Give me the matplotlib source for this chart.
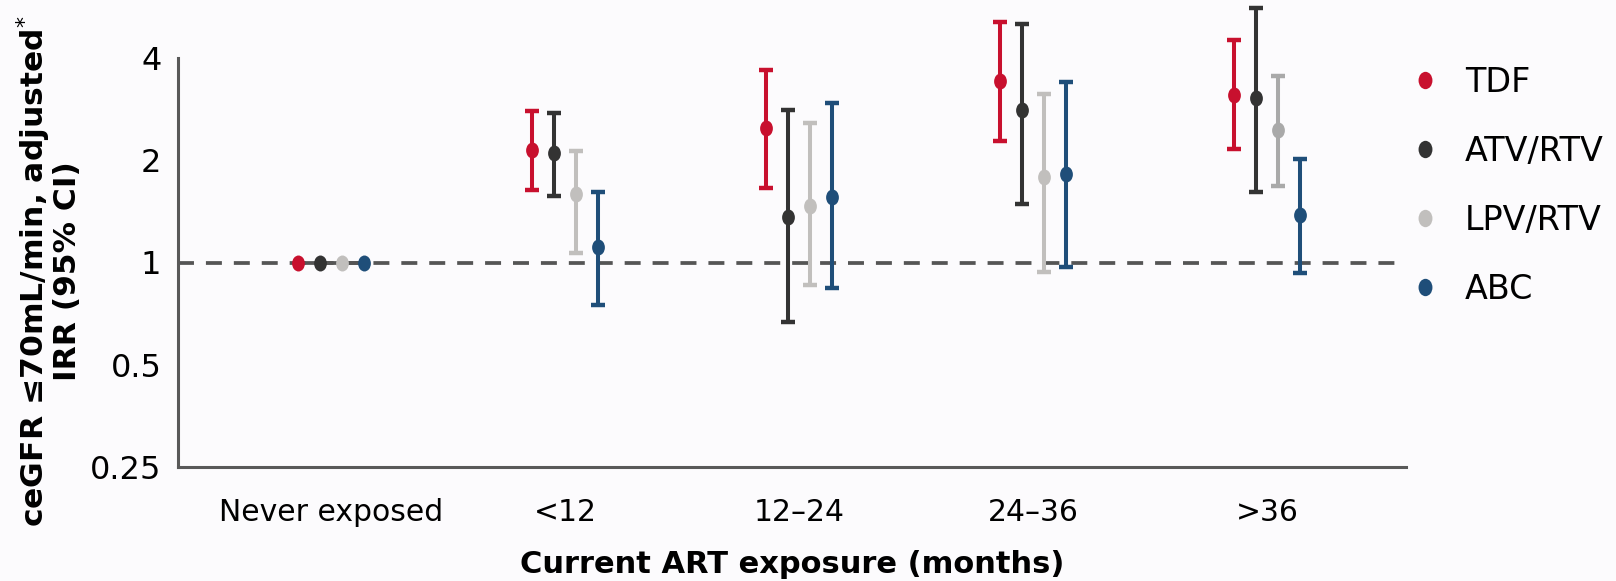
import numpy as np
import matplotlib
matplotlib.use("Agg")
import matplotlib.pyplot as plt
from matplotlib.path import Path
from matplotlib.lines import Line2D
from matplotlib.ticker import FixedLocator, FixedFormatter, NullLocator

# ---- data -------------------------------------------------------------
categories = ["Never exposed", "<12", "12\u201324", "24\u201336", ">36"]
series_names = ["TDF", "ATV/RTV", "LPV/RTV", "ABC"]

tdf_irr = [1.0, 2.15, 2.49, 3.43, 3.11]
tdf_lo = [1.0, 1.63, 1.66, 2.28, 2.16]
tdf_hi = [1.0, 2.79, 3.69, 5.10, 4.51]

atv_irr = [1.0, 2.10, 1.36, 2.81, 3.04]
atv_lo = [1.0, 1.57, 0.667, 1.49, 1.61]
atv_hi = [1.0, 2.75, 2.82, 5.02, 5.62]

lpv_irr = [1.0, 1.59, 1.47, 1.78, 2.45]
lpv_lo = [1.0, 1.07, 0.859, 0.94, 1.68]
lpv_hi = [1.0, 2.13, 2.57, 3.14, 3.55]

abc_irr = [1.0, 1.11, 1.56, 1.82, 1.38]
abc_lo = [1.0, 0.75, 0.839, 0.97, 0.93]
abc_hi = [1.0, 1.61, 2.94, 3.41, 2.02]

y_ticks = [0.25, 0.5, 1, 2, 4]
y_tick_labels = ["0.25", "0.5", "1", "2", "4"]

# ---- style ------------------------------------------------------------
bg = "#fcfbfd"
axis_grey = "#595959"
colors = ["#c8102e", "#333333", "#c1bfbd", "#1f4e79"]
# the longest-exposure LPV/RTV estimate is drawn in a darker grey
point_colors = [
    [colors[0]] * 5,
    [colors[1]] * 5,
    [colors[2]] * 4 + ["#a9a9a9"],
    [colors[3]] * 5,
]
offset_step = 0.094

# slightly tall elliptical marker
circ = Path.unit_circle()
ellipse = Path(circ.vertices * np.array([0.8, 1.0]), circ.codes)

plt.rcParams["font.family"] = ["DejaVu Sans"]

fig = plt.figure(figsize=(16.16, 5.81), dpi=100, facecolor=bg)
ax = fig.add_axes([178 / 1616, 1 - 467 / 581, (1406 - 178) / 1616, (467 - 58) / 581])
ax.set_facecolor(bg)

ax.set_yscale("log", base=2)
ax.set_ylim(0.25, 4.0)
ax.set_xlim(-0.654, 4.594)

x = np.arange(len(categories))
all_series = [
    (tdf_irr, tdf_lo, tdf_hi),
    (atv_irr, atv_lo, atv_hi),
    (lpv_irr, lpv_lo, lpv_hi),
    (abc_irr, abc_lo, abc_hi),
]

# reference line at IRR = 1
ref_lw = 2.7
ax.plot([-0.654, 4.57], [1, 1], color="#555555", lw=ref_lw,
        linestyle=(0, (11.5 / ref_lw, 8.6 / ref_lw)), zorder=1, solid_capstyle="butt")
# the never-exposed reference estimates sit on a solid segment
xs0 = [x[0] + (0 - 1.5) * offset_step, x[0] + (3 - 1.5) * offset_step]
ax.plot(xs0, [1, 1], color="#555555", lw=ref_lw, zorder=2)

for j, (irr, lo, hi) in enumerate(all_series):
    irr = np.asarray(irr)
    lo = np.asarray(lo)
    hi = np.asarray(hi)
    xj = x + (j - 1.5) * offset_step
    for i in range(len(categories)):
        c = point_colors[j][i]
        if hi[i] > lo[i]:
            eb = ax.errorbar(xj[i], irr[i],
                             yerr=[[irr[i] - lo[i]], [hi[i] - irr[i]]],
                             fmt="none", ecolor=c, elinewidth=2.9,
                             capsize=4.8, capthick=3.2, zorder=3)
            for art in eb.get_children():
                art.set_clip_on(False)
        ax.plot(xj[i], irr[i], linestyle="none", marker=ellipse, markersize=11.5,
                color=c, markeredgewidth=0, zorder=4, clip_on=False)

# axes cosmetics
for side in ("top", "right"):
    ax.spines[side].set_visible(False)
for side in ("left", "bottom"):
    ax.spines[side].set_color(axis_grey)
    ax.spines[side].set_linewidth(2.2)

ax.yaxis.set_major_locator(FixedLocator(y_ticks))
ax.yaxis.set_major_formatter(FixedFormatter(y_tick_labels))
ax.yaxis.set_minor_locator(NullLocator())
ax.set_xticks(x)
ax.set_xticklabels(categories)
ax.tick_params(axis="y", length=0, pad=12, labelsize=23, colors="black")
ax.tick_params(axis="x", length=0, pad=22, labelsize=21.5, colors="black")

ax.set_xlabel("Current ART exposure (months)", fontsize=22, fontweight="bold", labelpad=17)
ax.set_ylabel("ceGFR \u226470mL/min, adjusted$^{*}$\nIRR (95% CI)", fontsize=22.6,
              fontweight="bold", linespacing=1.02)
ax.yaxis.set_label_coords((82 - 178) / 1228, 0.48)

handles = [Line2D([], [], linestyle="none", marker=ellipse, markersize=12.5,
                  color=c, markeredgewidth=0) for c in colors]
leg = ax.legend(handles, series_names, loc="upper left",
                bbox_to_anchor=(1408 / 1616, 1 - 66 / 581), bbox_transform=fig.transFigure,
                frameon=False, fontsize=24, handlelength=1.0, handletextpad=0.7,
                labelspacing=1.08, borderpad=0, borderaxespad=0)

fig.savefig("out.png", dpi=100, facecolor=bg)
